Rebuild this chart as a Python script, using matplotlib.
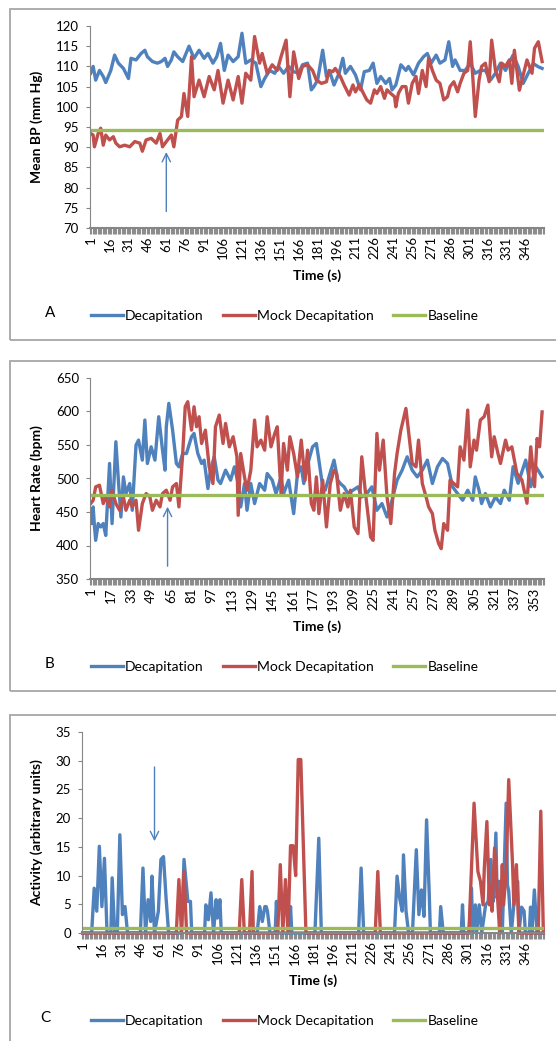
import matplotlib
matplotlib.use('Agg')
import matplotlib.pyplot as plt
import numpy as np
from matplotlib.patches import Rectangle
from matplotlib.ticker import FixedLocator

plt.rcParams['font.family'] = ['Lato', 'DejaVu Sans']

n_sec = 360

# A: mean blood pressure (mm Hg)
bp_dec_t = [1, 3, 5, 8, 11, 13, 17, 20, 23, 27, 31, 33, 37, 41, 44, 46, 50, 54, 57, 60,
            62, 65, 67, 70, 74, 79, 83, 87, 91, 94, 98, 101, 104, 107, 110, 114, 118, 121, 124, 128,
            132, 136, 139, 143, 147, 150, 154, 158, 162, 166, 169, 173, 176, 178, 181, 185, 188, 191, 194, 198,
            201, 203, 207, 211, 215, 218, 222, 225, 228, 231, 235, 238, 240, 243, 247, 251, 253, 257, 261, 265,
            268, 271, 275, 278, 282, 285, 288, 290, 294, 298, 302, 306, 310, 314, 318, 322, 326, 330, 334, 336,
            340, 344, 348, 352, 356, 359]
bp_dec = [108.3, 110, 106.6, 109, 107.5, 106, 109, 112.8, 110.8, 109.5, 107, 112, 111.6, 113.2, 114, 112.4, 111.2, 110.8, 111.2, 112,
          110, 111.6, 113.6, 112.4, 111.2, 115, 112, 114, 112, 113.2, 110.8, 112.4, 115.7, 109, 112.8, 111.2, 112.4, 118.2, 110.8, 111.6,
          110.8, 105, 107, 109, 108.3, 110, 108.3, 110, 108.7, 108.3, 110.4, 110.8, 104.2, 105, 106.6, 114, 107.5, 108.3, 105.4, 108.3,
          112, 108.3, 110, 107.9, 104.2, 108.7, 109, 110.8, 105.8, 107.5, 105.8, 107, 104.2, 105.4, 110.4, 109, 110, 107.9, 110.8, 112.4,
          113.2, 110.8, 112.8, 110.8, 111.6, 116.1, 110, 111.6, 109, 109, 110.8, 108.3, 109, 109, 106.6, 108.3, 110.8, 109, 111.6, 112.8,
          110, 105.8, 108.3, 110.7, 109.9, 109.5]

bp_mock_t = [1, 3, 4, 7, 9, 11, 13, 16, 19, 21, 24, 28, 32, 36, 40, 42, 45, 49, 53, 56,
             58, 62, 65, 67, 70, 73, 75, 78, 81, 83, 87, 91, 95, 99, 102, 106, 110, 114, 118, 121,
             124, 128, 131, 135, 137, 141, 145, 149, 152, 156, 159, 162, 166, 169, 173, 177, 180, 184, 188, 190,
             193, 195, 199, 202, 206, 209, 211, 214, 218, 220, 223, 226, 228, 231, 234, 236, 239, 242, 243, 245,
             248, 251, 253, 256, 259, 261, 264, 267, 269, 272, 275, 278, 281, 284, 286, 289, 292, 294, 297, 300,
             302, 304, 306, 309, 311, 314, 317, 319, 322, 325, 327, 330, 333, 335, 337, 341, 347, 351, 353, 356,
             359]
bp_mock = [93.4, 93, 90.1, 93.4, 94.7, 90.5, 93, 91.8, 92.6, 91, 90.1, 90.5, 90.1, 91.4, 91, 89, 91.8, 92.2, 91, 93.4,
           90.1, 91.8, 93, 90.1, 96.7, 97.6, 103.3, 97.6, 112.4, 102.5, 106.6, 102.5, 107.5, 104.2, 109, 100.9, 106.6, 101.7, 107.5, 100.9,
           108.3, 106.6, 117.4, 110.8, 113.2, 108.3, 110.4, 109, 112.4, 116.5, 102.5, 113.6, 107, 110, 110.4, 109, 106.6, 105.8, 106.2, 109,
           108.7, 109.5, 107.5, 105.4, 102.9, 105.4, 103.7, 105.4, 102.9, 101.7, 100.9, 104.2, 103.3, 105, 102.1, 104.2, 103.3, 102.5, 100, 103.3,
           105, 105, 100.9, 105.8, 107.5, 103.3, 109, 105, 112, 109, 106.6, 105.8, 101.7, 102.5, 105, 106.2, 103.7, 105.8, 108.3, 109,
           116.1, 107.5, 97.6, 106.6, 110, 110.8, 106.2, 116.5, 109, 106.2, 110.8, 110, 111.6, 105.8, 114, 104.1, 111.6, 108.3, 114.5, 116.1,
           111.2]
bp_base = 94.2

# B: heart rate (bpm)
hr_dec_t = [1, 2, 3, 4, 5, 7, 9, 11, 13, 16, 18, 21, 23, 25, 27, 29, 32, 34, 37, 39,
            42, 44, 46, 49, 52, 55, 58, 60, 61, 63, 66, 69, 71, 74, 77, 81, 83, 86, 89, 91,
            94, 96, 99, 102, 104, 108, 112, 115, 118, 120, 123, 125, 128, 131, 135, 139, 141, 145, 148, 152,
            154, 158, 162, 165, 168, 170, 174, 177, 180, 182, 185, 187, 190, 194, 197, 199, 202, 205, 209, 213,
            216, 220, 224, 228, 232, 236, 240, 244, 248, 252, 256, 260, 264, 268, 272, 276, 280, 284, 288, 292,
            296, 300, 304, 306, 309, 311, 314, 318, 322, 326, 329, 333, 336, 340, 346, 350, 354, 359]
hr_dec = [452.6, 432.7, 457.6, 430, 407.7, 432.7, 427.7, 432.7, 415, 522.4, 432.7, 554.8, 497.5, 442.6, 502.4, 477.5, 492.5, 452.6, 549.8, 557.3,
          527.4, 587.2, 522.4, 547.3, 527.4, 592.2, 542.3, 512.4, 577.2, 612.1, 572.2, 522.4, 517.4, 537.3, 537.3, 562.3, 567.2, 537.3, 522.4, 527.4,
          485, 512.4, 532.4, 497.5, 492.5, 512.4, 497.5, 517.4, 492.5, 457.6, 492.5, 452.6, 492.5, 462.6, 492.5, 482.5, 507.4, 497.5, 477.5, 502.4,
          477.5, 497.5, 447.6, 507.4, 517.4, 492.5, 527.4, 547.3, 552.3, 527.4, 487.5, 482.5, 502.4, 527.4, 497.5, 492.5, 487.5, 477.5, 482.5, 487.5,
          472.5, 477.5, 487.5, 452.6, 462.6, 442.6, 467.5, 497.5, 512.4, 532.4, 512.4, 502.4, 512.4, 527.4, 492.5, 517.4, 529.9, 522.4, 487.5, 477.5,
          467.5, 482.5, 467.5, 502.4, 482.5, 462.6, 477.5, 457.6, 472.5, 462.6, 482.5, 467.5, 517.6, 492.8, 527.5, 487.8, 517.6, 502.7]

hr_mock_t = [1, 3, 5, 8, 11, 13, 16, 18, 21, 24, 27, 29, 32, 34, 37, 39, 42, 45, 48, 50,
             53, 56, 58, 61, 64, 66, 69, 71, 74, 76, 78, 81, 83, 85, 87, 89, 92, 95, 98, 100,
             103, 106, 108, 111, 114, 117, 118, 120, 123, 125, 128, 131, 133, 136, 139, 141, 144, 147, 149, 152,
             154, 157, 159, 162, 165, 168, 171, 173, 176, 178, 180, 182, 185, 188, 191, 194, 196, 199, 202, 205,
             207, 210, 213, 216, 219, 223, 225, 228, 230, 233, 236, 239, 242, 244, 247, 251, 253, 256, 259, 261,
             264, 267, 269, 272, 274, 277, 279, 281, 284, 286, 289, 292, 294, 297, 300, 302, 305, 307, 310, 313,
             316, 319, 321, 324, 326, 330, 332, 335, 339, 343, 347, 350, 353, 355, 357, 359]
hr_mock = [462.6, 467.5, 487.5, 490, 462.6, 472.5, 457.6, 482.5, 462.6, 452.6, 472.5, 452.6, 467.5, 457.6, 467.5, 422.7, 462.6, 477.5, 472.5, 452.6,
           467.5, 457.6, 477.5, 482.5, 467.5, 487.5, 492.5, 457.6, 537.3, 607.1, 614.6, 572.2, 607.1, 577.2, 592.2, 552.3, 572.2, 517.4, 492.5, 577.2,
           594.7, 552.3, 582.2, 547.3, 562.3, 532.4, 445.1, 537.3, 502.4, 482.5, 512.4, 587.2, 547.3, 557.3, 542.3, 592.2, 547.3, 567.2, 577.2, 477.5,
           552.3, 512.4, 562.3, 537.3, 502.4, 557.3, 497.5, 542.3, 462.6, 452.6, 502.4, 447.6, 497.5, 427.7, 492.5, 512.4, 507.4, 452.6, 477.5, 457.6,
           482.5, 427.7, 417.7, 532.4, 477.5, 412.7, 407.7, 567.2, 512.4, 557.3, 472.5, 432.7, 507.4, 537.3, 572.2, 604.6, 572.2, 522.4, 517.4, 557.3,
           492.5, 472.5, 457.6, 447.6, 422.7, 402.7, 395.3, 432.7, 422.7, 497.5, 492.5, 487.5, 547.3, 527.4, 602.1, 517.4, 557.3, 542.3, 587.2, 592.2,
           609.6, 532.4, 562.3, 537.3, 522.4, 557.3, 542.3, 547.3, 507.7, 497.8, 463, 547.3, 487.8, 559.7, 547.3, 599.4]
hr_base = 475.4

# C: activity (arbitrary units)
act_dec_t = [1, 8, 10, 12, 14, 16, 18, 20, 23, 24, 26, 28, 30, 32, 34, 36, 46, 48, 50, 52,
             54, 55, 57, 60, 62, 64, 66, 68, 78, 80, 83, 85, 86, 96, 97, 99, 101, 103, 105, 106,
             108, 109, 137, 139, 141, 143, 144, 145, 147, 151, 152, 153, 162, 163, 164, 182, 185, 187, 216, 218,
             220, 244, 246, 248, 250, 251, 253, 255, 258, 259, 261, 263, 265, 267, 269, 271, 272, 279, 280, 282,
             296, 297, 298, 302, 304, 305, 307, 308, 310, 312, 315, 317, 319, 321, 323, 324, 326, 328, 331, 332,
             333, 335, 337, 340, 341, 343, 345, 346, 349, 350, 351, 353, 355, 360]
act_dec = [0, 0, 7.8, 3.8, 15.1, 4.6, 13, 0, 0, 9.6, 0, 0, 17.1, 3.2, 4.6, 0, 0, 11.3, 0, 5.8,
           2, 9.9, 0, 3.8, 12.8, 13.3, 6.1, 0, 0, 12.8, 5.5, 5.5, 0, 0, 4.9, 2.3, 7, 0, 5.8, 2.6,
           5.8, 0, 0, 4.6, 2, 4.6, 4.6, 3.8, 0, 0, 5.5, 0, 0, 4.6, 0, 0, 16.5, 0, 0, 11.3,
           0, 0, 9.9, 6.1, 3.8, 13.6, 3.8, 0, 0, 4.9, 14.5, 3.2, 7.5, 2.9, 19.7, 7.3, 0, 0, 4.6, 0,
           0, 4.9, 0, 0, 7.8, 0, 4.9, 0, 4.9, 0, 4.9, 5.5, 12.8, 5.5, 17.4, 6.1, 9, 0, 22.6, 8.4,
           7.3, 0, 4.9, 9, 0, 4.5, 3.8, 0, 0, 4.5, 0, 7.5, 0, 0]

act_mock_t = [1, 74, 76, 78, 80, 82, 123, 125, 127, 131, 133, 134, 153, 155, 157, 159, 161, 163, 165, 167,
              169, 171, 175, 229, 231, 233, 302, 306, 309, 311, 313, 314, 316, 318, 319, 320, 322, 324, 326, 328,
              329, 331, 333, 336, 337, 339, 341, 356, 358, 360]
act_mock = [0, 0, 9.3, 0, 10.7, 0, 0, 9.3, 0, 0, 10.7, 0, 0, 11.9, 0, 9.3, 0, 15.2, 15.2, 10,
            30.2, 30.2, 0, 0, 10.7, 0, 0, 22.6, 10.7, 9, 4.9, 11.3, 19.4, 4.9, 8.4, 3.8, 14.8, 7.3, 0, 11.9,
            4.9, 10.7, 26.7, 11.9, 4.9, 11.9, 0, 0, 21.2, 0]
act_base = 0.9

C_DEC = '#4F81BD'
C_MOCK = '#C0504D'
C_BASE = '#9BBB59'
GRAY = '#868686'

W, H = 556, 1041
fig = plt.figure(figsize=(W / 100, H / 100), dpi=100)


def fx(px):
    return px / W


def fy(py):
    return 1 - py / H


def panel(left, top, bottom, t1, v1, t2, v2, base, ylim, yticks, step, ylabel,
          letter, letter_x, box_top, box_bot, arrow):
    right = 544
    ax = fig.add_axes([fx(left), fy(bottom), fx(right) - fx(left), fy(top) - fy(bottom)])
    clip = ylim[0] == 0
    l1, = ax.plot(t1, v1, color=C_DEC, lw=2.4, solid_joinstyle='round', clip_on=not clip)
    l2, = ax.plot(t2, v2, color=C_MOCK, lw=2.4, solid_joinstyle='round', clip_on=not clip)
    l3, = ax.plot([1, n_sec], [base, base], color=C_BASE, lw=2.4)
    ax.set_xlim(0.5, n_sec + 0.5)
    ax.set_ylim(*ylim)
    ax.set_yticks(yticks)
    labs = np.arange(1, n_sec + 1, step)
    ax.set_xticks(labs)
    ax.set_xticklabels([str(v) for v in labs], rotation=90)
    ax.xaxis.set_minor_locator(FixedLocator(np.arange(0.5, n_sec + 1, 1)))
    ax.tick_params(axis='x', which='major', length=0, pad=6, labelsize=9.5)
    ax.tick_params(axis='x', which='minor', length=4, width=0.8, color='#8c8c8c')
    ax.tick_params(axis='y', length=3, color=GRAY, pad=5, labelsize=9.5)
    for s in ['top', 'right']:
        ax.spines[s].set_visible(False)
    for s in ['left', 'bottom']:
        ax.spines[s].set_color(GRAY)
    ax.spines['bottom'].set_linewidth(1.5)

    # arrow marking time of decapitation
    ax.annotate('', xy=(arrow[0], arrow[2]), xytext=(arrow[0], arrow[1]),
                arrowprops=dict(arrowstyle='->', color='#4F81BD', lw=1, mutation_scale=15))

    fig.text(fx(37), fy((top + bottom) / 2), ylabel, rotation=90, ha='center', va='center',
             fontsize=10, fontweight='bold')
    fig.text(fx((left + right) / 2), fy(bottom + 48), 'Time (s)', ha='center', va='center',
             fontsize=10, fontweight='bold')
    fig.text(fx(letter_x), fy(bottom + 85), letter, ha='left', va='center', fontsize=11)
    ax.legend([l1, l2, l3], ['Decapitation', 'Mock Decapitation', 'Baseline'],
              loc='center left', bbox_to_anchor=(fx(91), fy(bottom + 88)),
              bbox_transform=fig.transFigure, ncol=3, frameon=False, fontsize=10,
              handlelength=2.3, handletextpad=0.15, columnspacing=1.4,
              borderpad=0, borderaxespad=0)
    fig.add_artist(Rectangle((fx(10), fy(box_bot)), 1.2, fy(box_top) - fy(box_bot),
                             transform=fig.transFigure, fill=False, edgecolor='#A6A6A6', lw=1.3))
    return ax


panel(90, 26, 228, bp_dec_t, bp_dec, bp_mock_t, bp_mock, bp_base, (70, 120),
      np.arange(70, 121, 5), 15, 'Mean BP (mm Hg)', 'A', 45, 9, 340, (61, 73.4, 89.5))
panel(90, 378, 579, hr_dec_t, hr_dec, hr_mock_t, hr_mock, hr_base, (350, 650),
      np.arange(350, 651, 50), 16, 'Heart Rate (bpm)', 'B', 45, 361, 691, (62, 365, 462))
panel(82, 732, 933, act_dec_t, act_dec, act_mock_t, act_mock, act_base, (0, 35),
      np.arange(0, 36, 5), 15, 'Activity (arbitrary units)', 'C', 40, 715, 1100, (57, 29.4, 15.5))

fig.savefig('out.png', dpi=100)
